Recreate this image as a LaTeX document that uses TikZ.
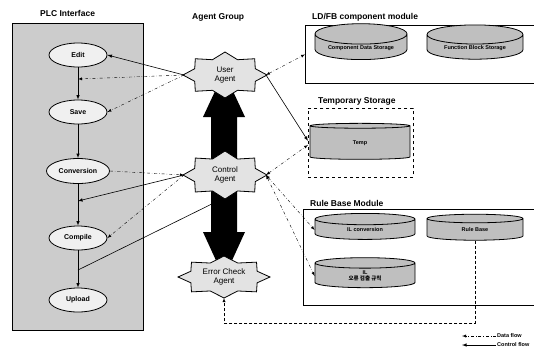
\documentclass[tikz,border=0pt]{standalone}
\usepackage{fontspec}
\setmainfont{Liberation Sans}
\newfontfamily\krfont{Noto Sans CJK KR}
\usetikzlibrary{shapes.geometric, arrows}
\tikzstyle{panel} = [draw=black, thick, fill=gray!40]
\tikzstyle{task} = [ellipse, draw=black, thick, fill=gray!12, minimum
    width=58pt, minimum height=24pt, inner sep=0pt,
font=\fontsize{7}{8}\selectfont\bfseries]
\tikzstyle{agent} = [draw=black, thick, fill=gray!22]
\tikzstyle{agentlabel} = [align=center, inner sep=0pt,
font=\fontsize{8}{9}\selectfont]
\tikzstyle{modbox} = [rectangle, draw=black, thick, anchor=north west]
\tikzstyle{storage} = [cylinder, shape border rotate=90, aspect=0.3,
    draw=black, thick, fill=gray!50, inner sep=1pt, align=center,
font=\fontsize{5.5}{6.5}\selectfont\bfseries]
\tikzstyle{title} = [anchor=west, inner sep=0pt, font=\fontsize{8.5}{10}\selectfont\bfseries]
\tikzstyle{legendtext} = [anchor=west, inner sep=1pt, font=\fontsize{5.5}{6.5}\selectfont\bfseries]
\tikzstyle{dataflow} = [thin, dash dot, ->, >=latex]
\tikzstyle{ctrlflow} = [semithick, ->, >=latex]
% agent outline: centre x, centre y, x radius, y radius
\newcommand{\agentshape}[4]{%
  \draw[agent, shift={(#1,#2)}] (0:#3 and #4)
    \foreach \a in {0,45,...,315} {-- (\a:#3 and #4) -- (\a+22.5:0.78*#3 and 0.72*#4)} -- cycle;}

\begin{document}
\begin{tikzpicture}[x=1pt, y=-1pt]
            \useasboundingbox (0,0) rectangle (534,349);
            % PLC interface
            \node[title] (plctitle) at (40,13) {PLC Interface};
            \draw[panel] (12,23) rectangle (143,330);
            \node[task] (edit) at (78,55) {Edit};
            \node[task] (save) at (78,112) {Save};
            \node[task, minimum width=63pt, minimum height=25pt] (conv) at (78,171) {Conversion};
            \node[task] (compile) at (78,238) {Compile};
            \node[task] (upload) at (78,300) {Upload};
            \coordinate (j1) at (78,79);
            \coordinate (j2) at (78,201);
            \coordinate (j3) at (78,270);
            \draw[ctrlflow] (edit) -- (save);
            \draw[ctrlflow] (save) -- (conv);
            \draw[ctrlflow] (conv) -- (compile);
            \draw[ctrlflow] (compile) -- (upload);

            % Agent group
            \node[title] (agtitle) at (192,17) {Agent Group};
            \coordinate (ua-w) at (184,75);
            \coordinate (ua-e) at (266,75);
            \coordinate (ca-w) at (184,175);
            \coordinate (ca-e) at (266,175);
            \coordinate (ca-s) at (226,197);
            \coordinate (ec-s) at (224,298);
            \draw[semithick] (ca-s) -- (j3);
            \fill[black] (224,72) -- (245,117) -- (237,117) -- (237,232) -- (245,232)
                -- (224,278) -- (203,232) -- (211,232) -- (211,117) -- (203,117) -- cycle;
            \agentshape{225}{75}{42}{23}
            \agentshape{225}{175}{42}{24}
            \agentshape{224}{277}{46}{21}
            \node[agentlabel] (ua) at (225,75) {User\\Agent};
            \node[agentlabel] (ca) at (225,175) {Control\\Agent};
            \node[agentlabel] (ec) at (224,277) {Error Check\\Agent};

            % Modules
            \node[title] (ldtitle) at (312,17) {LD/FB component module};
            \node[modbox, minimum width=240pt, minimum height=58pt] (ldfb) at (305,25) {};
            \node[storage, minimum width=92pt, minimum height=30pt] (cds) at (361,48) {Component Data Storage};
            \node[storage, minimum width=96pt, minimum height=30pt] (fbs) at (475,48) {Function Block Storage};
            \node[title] (tmptitle) at (318,101) {Temporary Storage};
            \node[modbox, dashed, minimum width=105pt, minimum height=69pt] (tmpbox) at (308,108) {};
            \node[storage, minimum width=100pt, minimum height=36pt] (temp) at (360,143) {Temp};
            \node[title] (rbtitle) at (310,203) {Rule Base Module};
            \node[modbox, minimum width=240pt, minimum height=96pt] (rbm) at (303,209) {};
            \node[storage, minimum width=100pt, minimum height=26pt] (ilconv) at (365,230) {IL conversion};
            \node[storage, minimum width=100pt, minimum height=30pt] (ilrule) at (365,276) {IL\\{\krfont 오류 검출 규칙}};
            \node[storage, minimum width=96pt, minimum height=26pt] (rbase) at (475,230) {Rule Base};

            % Arrows
            \draw[ctrlflow] (ua-w) -- (edit.east);
            \draw[dataflow] (ua-w) -- (j1);
            \draw[dataflow] (ua-w) -- (save.east);
            \draw[dataflow] (conv.east) -- (ca-w);
            \draw[ctrlflow] (ca-w) -- (j2);
            \draw[dataflow] (ca-w) -- (compile.east);
            \draw[dataflow, <->] (ua-e) -- (ldfb.west);
            \draw[ctrlflow] (ua-e) -- ([yshift=2pt]tmpbox.west);
            \draw[dataflow, <->] (ca-e) -- ([yshift=-2pt]tmpbox.west);
            \draw[dataflow, <->] (ca-e) -- (ilconv.west);
            \draw[dataflow, <->] (ca-e) -- (ilrule.west);
            \draw[thin, densely dashed, ->, >=latex] (rbase.south) -- (475,323) -- (224,323) -- (ec-s);

            % Legend
            \node[legendtext] (dflabel) at (496,336) {Data flow};
            \node[legendtext] (cflabel) at (496,345) {Control flow};
            \coordinate (dfend) at (462,336);
            \coordinate (cfend) at (462,345);
            \draw[dataflow] (dflabel.west) -- (dfend);
            \draw[ctrlflow] (cflabel.west) -- (cfend);
\end{tikzpicture}
\end{document}
